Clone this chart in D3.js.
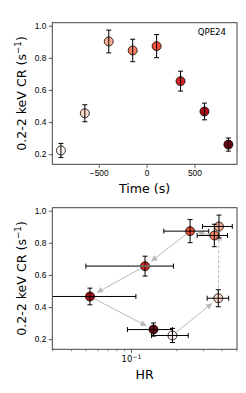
<!DOCTYPE html>
<html>
<head>
<meta charset="utf-8">
<script src="https://cdn.jsdelivr.net/npm/d3@7/dist/d3.min.js"></script>
<style>
  html, body { margin: 0; padding: 0; background: #fff; }
  svg { display: block; font-family: "DejaVu Sans", sans-serif; }
</style>
</head>
<body>
<svg id="chart" width="246" height="393"></svg>
<script>
// ---- data ----
var times    = [-895, -645, -395, -145, 105, 355, 605, 855];
var rate     = [0.223, 0.455, 0.902, 0.846, 0.873, 0.655, 0.466, 0.260];
var rateErr  = [0.044, 0.053, 0.071, 0.070, 0.072, 0.062, 0.052, 0.041];
var hr       = [0.187, 0.377, 0.381, 0.355, 0.245, 0.123, 0.053, 0.140];
var hrLow    = [0.136, 0.318, 0.296, 0.273, 0.164, 0.0498, 0.02, 0.094];
var hrHigh   = [0.238, 0.442, 0.467, 0.434, 0.326, 0.190, 0.107, 0.187];
var timeTicks = [-500, 0, 500];
var rateTicks = [0.2, 0.4, 0.6, 0.8, 1.0];
var hrMajorTicks = [0.1];
var label = 'QPE24';

var W = 246, H = 393;
var left = 52.3, right = 237;
var top1 = 22.7, bot1 = 164.3;
var top2 = 207.7, bot2 = 349.3;
var tickFont = '8.4px', labelFont = '12.6px';

var svg = d3.select('#chart');
svg.append('rect').attr('width', W).attr('height', H).attr('fill', '#fff');

var color = function(i) { return d3.interpolateReds(i / (times.length - 1)); };
var idx = d3.range(times.length);

var xT = d3.scaleLinear().domain([-985, 945]).range([left, right]);
var y1 = d3.scaleLinear().domain([0.137, 1.019]).range([bot1, top1]);
var xH = d3.scaleLog().domain([0.0298, 0.502]).range([left, right]);
var y2 = d3.scaleLinear().domain([0.137, 1.019]).range([bot2, top2]);

function fmtMinus(d) { return d3.format('d')(d).replace('-', '\u2212'); }

function drawYAxis(y, top, bot) {
	var g = svg.append('g').attr('transform', 'translate(' + left + ',0)')
		.call(d3.axisLeft(y).tickValues(rateTicks).tickFormat(d3.format('.1f')).tickSize(3.5).tickPadding(2.5));
	g.select('.domain').remove();
	g.selectAll('line').attr('stroke', '#333').attr('stroke-width', 0.8);
	g.selectAll('text').style('font-size', tickFont).attr('fill', '#000');
	var cy = (top + bot) / 2;
	var t = svg.append('text').attr('transform', 'translate(25.5,' + cy + ') rotate(-90)')
		.attr('text-anchor', 'middle').style('font-size', labelFont);
	t.append('tspan').text('0.2-2 keV CR (s');
	t.append('tspan').attr('dy', -4.5).style('font-size', '8.8px').text('\u22121');
	t.append('tspan').attr('dy', 4.5).text(')');
}

function frame(top, bot) {
	svg.append('rect').attr('x', left).attr('y', top).attr('width', right - left).attr('height', bot - top)
		.attr('fill', 'none').attr('stroke', '#444').attr('stroke-width', 1);
}

function errBars(g, xs, ys, cap) {
	// vertical
	g.selectAll('line.ev').data(idx).enter().append('line').attr('class', 'ev')
		.attr('x1', function(i){ return xs(i); }).attr('x2', function(i){ return xs(i); })
		.attr('y1', function(i){ return ys(i, -1); }).attr('y2', function(i){ return ys(i, 1); })
		.attr('stroke', '#000').attr('stroke-width', 1);
	[-1, 1].forEach(function(s) {
		g.selectAll('line.cv' + (s + 1)).data(idx).enter().append('line').attr('class', 'cv' + (s + 1))
			.attr('x1', function(i){ return xs(i) - cap; }).attr('x2', function(i){ return xs(i) + cap; })
			.attr('y1', function(i){ return ys(i, s); }).attr('y2', function(i){ return ys(i, s); })
			.attr('stroke', '#000').attr('stroke-width', 1);
	});
}

// ---------- top panel: count rate vs time ----------
drawYAxis(y1, top1, bot1);
var gx1 = svg.append('g').attr('transform', 'translate(0,' + bot1 + ')')
	.call(d3.axisBottom(xT).tickValues(timeTicks).tickFormat(fmtMinus).tickSize(3.5).tickPadding(2.5));
gx1.select('.domain').remove();
gx1.selectAll('line').attr('stroke', '#333').attr('stroke-width', 0.8);
gx1.selectAll('text').style('font-size', tickFont).attr('fill', '#000');
svg.append('text').attr('x', (left + right) / 2).attr('y', 192.5).attr('text-anchor', 'middle')
	.style('font-size', labelFont).text('Time (s)');

var p1 = svg.append('g');
p1.selectAll('circle').data(idx).enter().append('circle')
	.attr('cx', function(i){ return xT(times[i]); }).attr('cy', function(i){ return y1(rate[i]); })
	.attr('r', 4.5).attr('fill', function(i){ return color(i); })
	.attr('stroke', '#000').attr('stroke-width', 0.8);
errBars(p1, function(i){ return xT(times[i]); }, function(i, s){ return y1(rate[i] + s * rateErr[i]); }, 2.5);
frame(top1, bot1);
svg.append('text').attr('x', 226).attr('y', 34.5).attr('text-anchor', 'end')
	.style('font-size', '8.6px').text(label);

// ---------- bottom panel: count rate vs hardness ratio ----------
drawYAxis(y2, top2, bot2);
var gx2 = svg.append('g').attr('transform', 'translate(0,' + bot2 + ')');
gx2.selectAll('line.minor').data(xH.ticks().filter(function(d){ return hrMajorTicks.indexOf(d) < 0; }))
	.enter().append('line').attr('class', 'minor')
	.attr('x1', function(d){ return xH(d); }).attr('x2', function(d){ return xH(d); })
	.attr('y1', 0).attr('y2', 2).attr('stroke', '#333').attr('stroke-width', 0.6);
gx2.selectAll('line.major').data(hrMajorTicks).enter().append('line').attr('class', 'major')
	.attr('x1', function(d){ return xH(d); }).attr('x2', function(d){ return xH(d); })
	.attr('y1', 0).attr('y2', 3.5).attr('stroke', '#333').attr('stroke-width', 0.8);
gx2.selectAll('text.major').data(hrMajorTicks).enter().append('text').attr('class', 'major')
	.attr('x', function(d){ return xH(d); }).attr('y', 13).attr('text-anchor', 'middle')
	.style('font-size', tickFont)
	.each(function(d) {
		var t = d3.select(this);
		t.append('tspan').text('10');
		t.append('tspan').attr('dy', -3.5).style('font-size', '6.2px').text('\u2212' + Math.round(-Math.log10(d)));
	});
svg.append('text').attr('x', (left + right) / 2).attr('y', 379).attr('text-anchor', 'middle')
	.style('font-size', labelFont).text('HR');

svg.append('clipPath').attr('id', 'clip2').append('rect')
	.attr('x', left).attr('y', top2).attr('width', right - left).attr('height', bot2 - top2);
var p2 = svg.append('g').attr('clip-path', 'url(#clip2)');

// arrows following time order
var arrowCol = '#b8b8b8';
d3.range(times.length - 1).forEach(function(i) {
	var ax = xH(hr[i]), ay = y2(rate[i]), bx = xH(hr[i + 1]), by = y2(rate[i + 1]);
	var dx = bx - ax, dy = by - ay, L = Math.sqrt(dx * dx + dy * dy);
	if (L < 16) return;
	var ux = dx / L, uy = dy / L;
	var sx = ax + ux * 5, sy = ay + uy * 5;
	var tx = bx - ux * 7.5, ty = by - uy * 7.5;
	var hx = tx - ux * 6.5, hy = ty - uy * 6.5;
	p2.append('line').attr('x1', sx).attr('y1', sy).attr('x2', hx).attr('y2', hy)
		.attr('stroke', arrowCol).attr('stroke-width', 1)
		.attr('stroke-dasharray', i === 1 ? '3,2' : null);
	p2.append('path')
		.attr('d', 'M' + tx + ',' + ty + 'L' + (hx - uy * 3) + ',' + (hy + ux * 3) + 'L' + (hx + uy * 3) + ',' + (hy - ux * 3) + 'Z')
		.attr('fill', arrowCol);
});

p2.selectAll('circle').data(idx).enter().append('circle')
	.attr('cx', function(i){ return xH(hr[i]); }).attr('cy', function(i){ return y2(rate[i]); })
	.attr('r', 4.5).attr('fill', function(i){ return color(i); })
	.attr('stroke', '#000').attr('stroke-width', 0.8);
errBars(p2, function(i){ return xH(hr[i]); }, function(i, s){ return y2(rate[i] + s * rateErr[i]); }, 2.5);
// horizontal HR error bars
p2.selectAll('line.eh').data(idx).enter().append('line').attr('class', 'eh')
	.attr('x1', function(i){ return xH(hrLow[i]); }).attr('x2', function(i){ return xH(hrHigh[i]); })
	.attr('y1', function(i){ return y2(rate[i]); }).attr('y2', function(i){ return y2(rate[i]); })
	.attr('stroke', function(i){ return i === 5 ? '#6a6a6a' : '#000'; })
	.attr('stroke-width', function(i){ return i === 5 ? 1.6 : 1; });
[hrLow, hrHigh].forEach(function(arr, k) {
	p2.selectAll('line.ch' + k).data(idx).enter().append('line').attr('class', 'ch' + k)
		.attr('x1', function(i){ return xH(arr[i]); }).attr('x2', function(i){ return xH(arr[i]); })
		.attr('y1', function(i){ return y2(rate[i]) - 2.5; }).attr('y2', function(i){ return y2(rate[i]) + 2.5; })
		.attr('stroke', '#000').attr('stroke-width', 1);
});
frame(top2, bot2);
</script>
</body>
</html>
